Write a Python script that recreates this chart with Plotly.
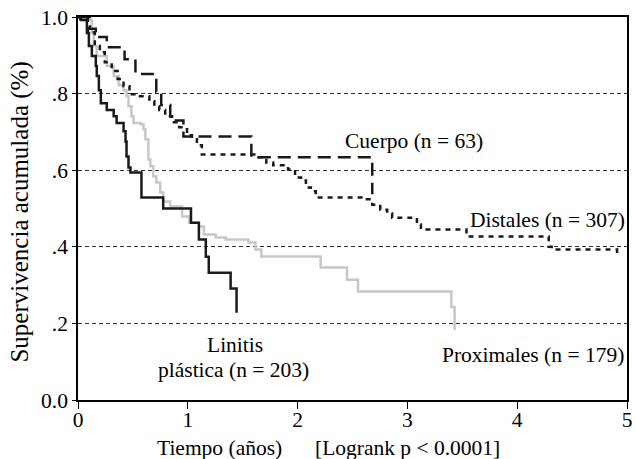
import plotly.graph_objects as go

# Kaplan-Meier step data (time in years, cumulative survival)
linitis_t = [0, 0.027, 0.081, 0.099, 0.126, 0.162, 0.171, 0.190, 0.208, 0.262, 0.325, 0.352,
             0.415, 0.433, 0.442, 0.460, 0.478, 0.578, 0.776, 1.029, 1.101, 1.164, 1.191,
             1.390, 1.444]
linitis_s = [1.0, 0.992, 0.958, 0.924, 0.898, 0.872, 0.846, 0.809, 0.775, 0.757, 0.741, 0.723,
             0.702, 0.675, 0.636, 0.607, 0.594, 0.529, 0.500, 0.463, 0.419, 0.374, 0.332,
             0.291, 0.228]

prox_t = [0, 0.054, 0.126, 0.144, 0.171, 0.262, 0.325, 0.370, 0.415, 0.442, 0.460, 0.487,
          0.505, 0.569, 0.596, 0.614, 0.641, 0.659, 0.686, 0.713, 0.749, 0.776, 0.839,
          0.948, 1.011, 1.101, 1.146, 1.255, 1.345, 1.552, 1.616, 1.670, 2.21, 2.45, 2.55,
          3.40, 3.43, 3.43]
prox_s = [1.0, 0.992, 0.958, 0.924, 0.898, 0.872, 0.846, 0.822, 0.809, 0.793, 0.767, 0.741,
          0.723, 0.720, 0.707, 0.681, 0.628, 0.610, 0.584, 0.568, 0.542, 0.518, 0.505,
          0.479, 0.463, 0.453, 0.432, 0.424, 0.419, 0.411, 0.393, 0.375, 0.346, 0.314, 0.283,
          0.243, 0.236, 0.183]

cuerpo_t = [0, 0.108, 0.162, 0.262, 0.424, 0.523, 0.713, 0.758, 0.84, 0.96, 1.579, 2.68]
cuerpo_s = [1.0, 0.969, 0.948, 0.921, 0.890, 0.851, 0.805, 0.770, 0.730, 0.688, 0.634, 0.537]

dist_t = [0, 0.02, 0.09, 0.153, 0.199, 0.244, 0.307, 0.361, 0.415, 0.469, 0.532, 0.650,
          0.695, 0.740, 0.794, 0.857, 0.921, 0.993, 1.038, 1.083, 1.128, 1.643, 1.715,
          1.778, 1.913, 1.977, 2.031, 2.076, 2.121, 2.166, 2.608, 2.68, 2.753, 2.816, 2.861,
          3.087, 3.123, 3.538, 4.287, 4.314, 4.91]
dist_s = [1.0, 0.995, 0.96, 0.924, 0.908, 0.882, 0.859, 0.838, 0.819, 0.798, 0.793, 0.780,
          0.767, 0.757, 0.741, 0.725, 0.712, 0.691, 0.681, 0.665, 0.641, 0.634, 0.620,
          0.613, 0.602, 0.581, 0.573, 0.555, 0.545, 0.529, 0.524, 0.510, 0.497, 0.487, 0.476,
          0.458, 0.445, 0.427, 0.400, 0.393, 0.380]

y_ticks = [0, 0.2, 0.4, 0.6, 0.8, 1.0]
y_ticktext = ["0.0", ".2", ".4", ".6", ".8", "1.0"]
x_ticks = [0, 1, 2, 3, 4, 5]

labels = ["Cuerpo (n = 63)", "Distales (n = 307)", "Linitis", "plástica (n = 203)",
          "Proximales (n = 179)"]
label_x = [3.06, 4.28, 1.43, 1.42, 4.14]
label_y = [0.675, 0.469, 0.144, 0.079, 0.118]

FONT = "Liberation Serif, Times New Roman, serif"
FS = 21.5

fig = go.Figure()
fig.add_trace(go.Scatter(x=prox_t, y=prox_s, mode="lines", line_shape="hv",
                         line=dict(color="#c8c8c8", width=2.5), showlegend=False))
fig.add_trace(go.Scatter(x=linitis_t, y=linitis_s, mode="lines", line_shape="hv",
                         line=dict(color="#1a1a1a", width=2.5), showlegend=False))
fig.add_trace(go.Scatter(x=cuerpo_t, y=cuerpo_s, mode="lines", line_shape="hv",
                         line=dict(color="#1a1a1a", width=2.5, dash="13px,7px"), showlegend=False))
fig.add_trace(go.Scatter(x=dist_t, y=dist_s, mode="lines", line_shape="hv",
                         line=dict(color="#1a1a1a", width=2.5, dash="5px,5px"), showlegend=False))

for txt, lx, ly in zip(labels, label_x, label_y):
    fig.add_annotation(x=lx, y=ly, xref="x", yref="y", text=txt, showarrow=False,
                       xanchor="center", yanchor="middle",
                       font=dict(family=FONT, size=FS, color="black"))

fig.add_annotation(x=(19 - 78) / 554, y=(400 - 212) / 383, xref="paper", yref="paper",
                   text="Supervivencia acumulada (%)", textangle=-90, showarrow=False,
                   xanchor="center", yanchor="middle",
                   font=dict(family=FONT, size=25, color="black"))
fig.add_annotation(x=(221 - 78) / 554, y=-(448 - 400) / 383, xref="paper", yref="paper",
                   text="Tiempo (años)", showarrow=False, xanchor="center", yanchor="middle",
                   font=dict(family=FONT, size=FS, color="black"))
fig.add_annotation(x=(410 - 78) / 554, y=-(448 - 400) / 383, xref="paper", yref="paper",
                   text="[Logrank p < 0.0001]", showarrow=False, xanchor="center", yanchor="middle",
                   font=dict(family=FONT, size=FS, color="black"))

fig.update_layout(
    width=636, height=459,
    margin=dict(l=78, r=4, t=17, b=59),
    paper_bgcolor="white", plot_bgcolor="white",
    font=dict(family=FONT, size=FS, color="black"),
    xaxis=dict(range=[0, 5], tickvals=x_ticks, showgrid=False, zeroline=False,
               showline=True, linecolor="black", linewidth=1.5, mirror=True,
               ticks="outside", ticklen=7, tickwidth=1, tickcolor="black",
               ticklabelstandoff=-8,
               tickfont=dict(family=FONT, size=FS)),
    yaxis=dict(range=[0, 1.0], tickvals=y_ticks, ticktext=y_ticktext,
               showgrid=True, gridcolor="#333333", gridwidth=1, griddash="4px,3px",
               zeroline=False, showline=True, linecolor="black", linewidth=1.5, mirror=True,
               ticks="outside", ticklen=4, tickwidth=1, tickcolor="black",
               tickfont=dict(family=FONT, size=FS)),
)

fig.write_html("out.html")
